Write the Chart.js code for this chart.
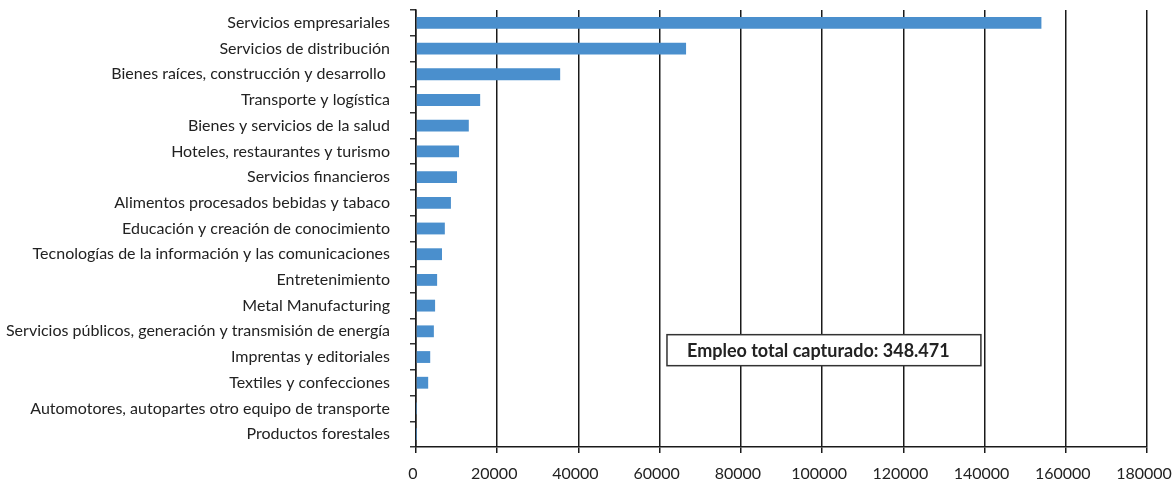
<!DOCTYPE html>
<html>
<head>
<meta charset="utf-8">
<script src="https://cdn.jsdelivr.net/npm/chart.js@4.4.1/dist/chart.umd.min.js"></script>
<style>
  html, body { margin: 0; padding: 0; background: #fff; }
  #wrap { width: 1173px; height: 491px; }
</style>
</head>
<body>
<div id="wrap"><canvas id="chart"></canvas></div>
<script>
const sectores = [
  'Servicios empresariales',
  'Servicios de distribución',
  'Bienes raíces, construcción y desarrollo ',
  'Transporte y logística',
  'Bienes y servicios de la salud',
  'Hoteles, restaurantes y turismo',
  'Servicios financieros',
  'Alimentos procesados bebidas y tabaco',
  'Educación y creación de conocimiento',
  'Tecnologías de la información y las comunicaciones',
  'Entretenimiento',
  'Metal Manufacturing',
  'Servicios públicos, generación y transmisión de energía',
  'Imprentas y editoriales',
  'Textiles y confecciones',
  'Automotores, autopartes otro equipo de transporte',
  'Productos forestales'
]
const empleo = [154000, 66500, 35500, 15800, 13000, 10600, 10100, 8600, 7100, 6400, 5200, 4700, 4400, 3500, 3000, 50, 21]
const xTicks = [0, 20000, 40000, 60000, 80000, 100000, 120000, 140000, 160000, 180000]
const nota = 'Empleo total capturado: 348.471'

const FONT = "Lato, sans-serif"

// caja de texto con el total
const notaBox = {
  id: 'notaBox',
  afterDraw(chart) {
    const ctx = chart.ctx
    const x = chart.scales.x, y = chart.scales.y
    const left = x.getPixelForValue(61800)
    const right = x.getPixelForValue(139100)
    const mid = (y.getPixelForValue(12) + y.getPixelForValue(13)) / 2 + 6
    const h = 31
    ctx.save()
    ctx.fillStyle = '#fff'
    ctx.fillRect(left, mid - h / 2, right - left, h)
    ctx.strokeStyle = '#333'
    ctx.lineWidth = 1.5
    ctx.strokeRect(left, mid - h / 2, right - left, h)
    ctx.fillStyle = '#222'
    ctx.font = "bold 18px " + FONT
    ctx.textBaseline = 'middle'
    ctx.fillText(nota, left + 20, mid + 1)
    ctx.restore()
  }
}

new Chart(document.getElementById('chart'), {
  type: 'bar',
  data: {
    labels: sectores,
    datasets: [{
      data: empleo,
      backgroundColor: '#4a8fcd',
      barPercentage: 0.46,
      categoryPercentage: 1
    }]
  },
  options: {
    indexAxis: 'y',
    responsive: true,
    maintainAspectRatio: false,
    animation: false,
    layout: { padding: { top: 10, right: 26, left: 0, bottom: 0 } },
    plugins: { legend: { display: false }, tooltip: { enabled: false } },
    scales: {
      x: {
        min: 0,
        max: 180000,
        afterBuildTicks: s => { s.ticks = xTicks.map(v => ({ value: v })) },
        afterFit: s => { s.height = 44; s.paddingLeft = 0; s.paddingRight = 0 },
        grid: { color: '#1a1a1a', lineWidth: 1.5, tickLength: 6 },
        border: { color: '#1a1a1a', width: 1.5 },
        ticks: { color: '#222', padding: 11, labelOffset: -3, maxRotation: 0, font: { family: FONT, size: 16 }, callback: v => String(v) }
      },
      y: {
        afterFit: s => { s.width = 416; s.paddingTop = 0; s.paddingBottom = 0 },
        grid: { drawOnChartArea: false, offset: true, tickLength: 6, color: '#333', lineWidth: 1.5 },
        border: { color: '#1a1a1a', width: 1.5 },
        ticks: { color: '#222', padding: 20, autoSkip: false, font: { family: FONT, size: 16 } }
      }
    }
  },
  plugins: [notaBox]
})
</script>
</body>
</html>
